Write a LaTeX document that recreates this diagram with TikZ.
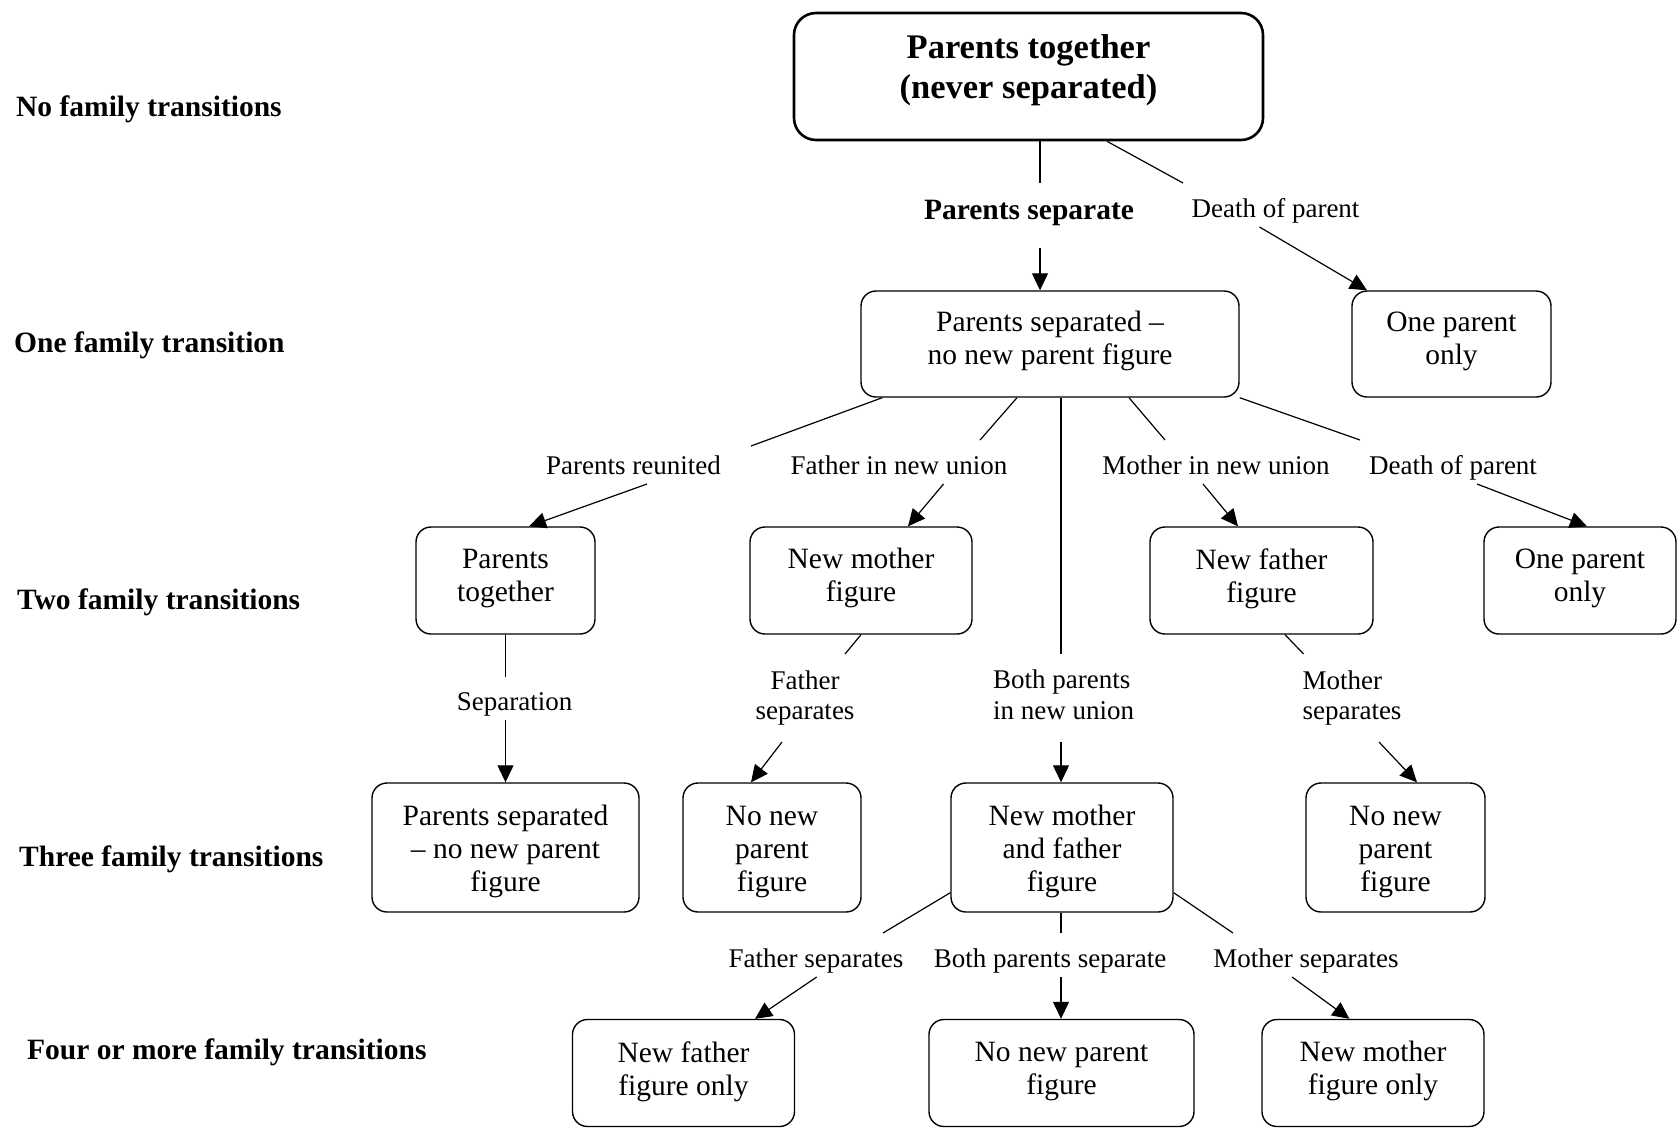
\documentclass[tikz,border=0pt]{standalone}
\usepackage{fontspec}
\setmainfont{Liberation Serif}
\usetikzlibrary{arrows.meta}
\newcommand{\lowdepth}[1]{\rule[-#1]{0pt}{0pt}}
\newcommand{\topheight}[1]{\rule{0pt}{#1}}
\begin{document}
\begin{tikzpicture}[x=1pt,y=-1pt,
  box/.style={draw, line width=1.4pt, rounded corners=15pt, align=center, inner sep=0pt,
    font=\fontsize{29.5}{33}\selectfont},
  lab/.style={inner sep=0pt, align=center, font=\fontsize{27}{30.7}\selectfont},
  side/.style={anchor=west, inner sep=0pt, font=\fontsize{29.5}{33}\selectfont\bfseries},
  conn/.style={line width=1.2pt},
  arr/.style={line width=1.2pt, -{Triangle[length=17pt,width=16pt]}},
]
\useasboundingbox (0,0) rectangle (1678,1130);

% side labels
\node[side] (s0) at (16,109.5) {No family transitions};
\node[side] (s1) at (14,345.5) {One family transition};
\node[side] (s2) at (17,602.5) {Two family transitions};
\node[side] (s3) at (19,859.5) {Three family transitions};
\node[side] (s4) at (27,1052.5) {Four or more family transitions};

% boxes
\node[box, line width=2.6pt, rounded corners=22pt, minimum width=469pt, minimum height=127pt,
  font=\fontsize{34.5}{40}\selectfont\bfseries] (top) at (1028.5,76.5)
  {Parents together\\(never separated)\\[-20pt]\mbox{}};
\node[box, minimum width=378pt, minimum height=106pt] (psep) at (1050,344)
  {Parents separated --\\no new parent figure\lowdepth{11.8pt}};
\node[box, minimum width=199pt, minimum height=106pt] (one1) at (1451.5,344)
  {One parent\\only\lowdepth{11.8pt}};

\node[box, minimum width=179pt, minimum height=107pt] (ptog) at (505.5,580.5)
  {Parents\\together\lowdepth{10.7pt}};
\node[box, minimum width=222pt, minimum height=107pt] (nmf) at (861,580.5)
  {New mother\\figure\lowdepth{10.7pt}};
\node[box, minimum width=223pt, minimum height=107pt] (nff) at (1261.5,580.5)
  {New father\\figure\lowdepth{10.7pt}};
\node[box, minimum width=192pt, minimum height=107pt] (one2) at (1580,580.5)
  {One parent\\only\lowdepth{10.7pt}};

\node[box, minimum width=267pt, minimum height=129pt] (psep2) at (505.5,847.5)
  {\topheight{28.7pt}Parents separated\\-- no new parent\\figure};
\node[box, minimum width=178pt, minimum height=129pt] (nonew1) at (772,847.5)
  {\topheight{28.7pt}No new\\parent\\figure};
\node[box, minimum width=222pt, minimum height=129pt] (nmff) at (1062,847.5)
  {\topheight{28.7pt}New mother\\and father\\figure};
\node[box, minimum width=179pt, minimum height=129pt] (nonew2) at (1395.5,847.5)
  {\topheight{28.7pt}No new\\parent\\figure};

\node[box, minimum width=222pt, minimum height=107pt] (nffo) at (683.5,1073)
  {New father\\figure only\lowdepth{9.6pt}};
\node[box, minimum width=265pt, minimum height=107pt] (nonew3) at (1061.5,1073)
  {No new parent\\figure\lowdepth{9.6pt}};
\node[box, minimum width=222pt, minimum height=107pt] (nmfo) at (1373,1073)
  {New mother\\figure only\lowdepth{9.6pt}};

% edge labels
\node[lab, anchor=base, font=\fontsize{29.5}{33}\selectfont\bfseries] (lsep) at (1029,219.5) {Parents separate};
\node[lab, anchor=base] (ldeath1) at (1275.5,217) {Death of parent};
\node[lab, anchor=base] (lreun) at (633.5,474.5) {Parents reunited};
\node[lab, anchor=base] (lfather) at (899,474.5) {Father in new union};
\node[lab, anchor=base] (lmother) at (1216,474.5) {Mother in new union};
\node[lab, anchor=base] (ldeath2) at (1453,474.5) {Death of parent};
\node[lab, anchor=base] (lsepn) at (514.6,710) {Separation};
\node[lab] (lfsep) at (805,698) {Father\\separates};
\node[lab, align=left] (lboth) at (1063.5,695) {Both parents\\in new union};
\node[lab, align=left] (lmsep) at (1352,698) {Mother\\separates};
\node[lab, anchor=base] (lfsep2) at (816,967.5) {Father separates};
\node[lab, anchor=base] (lbsep) at (1050,967.5) {Both parents separate};
\node[lab, anchor=base] (lmsep2) at (1306,967.5) {Mother separates};

% free ends of connectors
\coordinate (a1) at (1040,183);  \coordinate (a2) at (1040,248);
\coordinate (b1) at (1183,183);  \coordinate (b2) at (1259.5,227);
\coordinate (c1) at (751,446);   \coordinate (c2) at (647,484);
\coordinate (d1) at (980,440);   \coordinate (d2) at (943.5,484);
\coordinate (e1) at (1061,654);  \coordinate (e2) at (1061,742);
\coordinate (f1) at (1165,440);  \coordinate (f2) at (1203,484);
\coordinate (g1) at (1360,440);  \coordinate (g2) at (1477,484);
\coordinate (h1) at (505.5,677); \coordinate (h2) at (505.5,720);
\coordinate (i1) at (845,654);   \coordinate (i2) at (782,742);
\coordinate (j1) at (1303.6,654);\coordinate (j2) at (1379,742);
\coordinate (k1) at (883,933);   \coordinate (k2) at (816.7,977);
\coordinate (l1) at (1061,933);  \coordinate (l2) at (1061,977);
\coordinate (m1) at (1233,933);  \coordinate (m2) at (1292,977);

% connectors
\draw[conn] ([xshift=11.5pt]top.south) -- (a1);
\draw[arr] (a2) -- ([xshift=-10pt]psep.north);
\draw[conn] ([xshift=78.5pt]top.south) -- (b1);
\draw[arr] (b2) -- ([xshift=-84.5pt]one1.north);

\draw[conn] ([xshift=22pt]psep.south west) -- (c1);
\draw[arr] (c2) -- ([xshift=23.5pt]ptog.north);
\draw[conn] ([xshift=-33pt]psep.south) -- (d1);
\draw[arr] (d2) -- ([xshift=47pt]nmf.north);
\draw[conn] ([xshift=11pt]psep.south) -- (e1);
\draw[arr] (e2) -- ([xshift=-1pt]nmff.north);
\draw[conn] ([xshift=79pt]psep.south) -- (f1);
\draw[arr] (f2) -- ([xshift=-23.5pt]nff.north);
\draw[conn] (psep.south east) -- (g1);
\draw[arr] (g2) -- ([xshift=7pt]one2.north);

\draw[conn] (ptog.south) -- (h1);
\draw[arr] (h2) -- (psep2.north);
\draw[conn] (nmf.south) -- (i1);
\draw[arr] (i2) -- ([xshift=-21pt]nonew1.north);
\draw[conn] ([xshift=23.5pt]nff.south) -- (j1);
\draw[arr] (j2) -- ([xshift=21.5pt]nonew2.north);

\draw[conn] ([yshift=20pt]nmff.south west) -- (k1);
\draw[arr] (k2) -- ([xshift=71.5pt]nffo.north);
\draw[conn] ([xshift=-1pt]nmff.south) -- (l1);
\draw[arr] (l2) -- ([xshift=-0.5pt]nonew3.north);
\draw[conn] ([yshift=20pt]nmff.south east) -- (m1);
\draw[arr] (m2) -- ([xshift=-23.6pt]nmfo.north);
\end{tikzpicture}
\end{document}
